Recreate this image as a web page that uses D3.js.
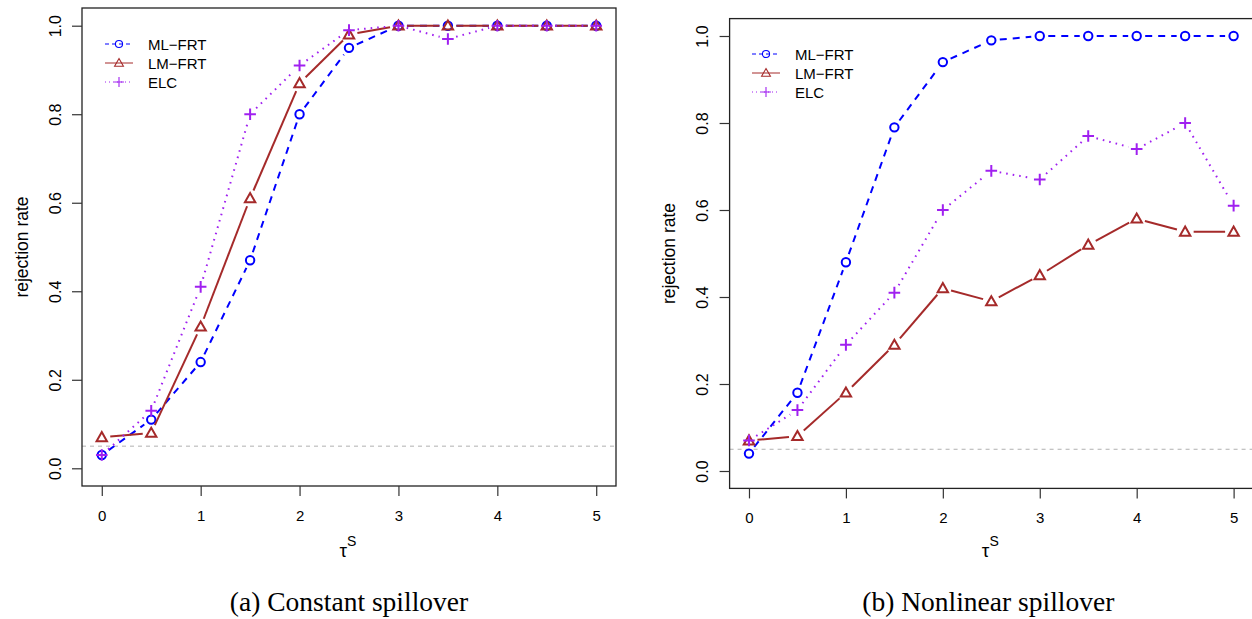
<!DOCTYPE html>
<html>
<head>
<meta charset="utf-8">
<script src="https://cdn.jsdelivr.net/npm/d3@7"></script>
<style>
  body { margin: 0; background: #fff; }
  text { font-family: "Liberation Sans", Arial, sans-serif; }
  .caption { font-family: "Liberation Serif", "DejaVu Serif", serif; }
</style>
</head>
<body>
<div id="chart"></div>
<script>
// Values
const taus = [0, 0.5, 1, 1.5, 2, 2.5, 3, 3.5, 4, 4.5, 5];
const xTicks = [0, 1, 2, 3, 4, 5];
const yTicks = [0, 0.2, 0.4, 0.6, 0.8, 1.0];
const seriesNames = ["ML\u2212FRT", "LM\u2212FRT", "ELC"];
const captions = ["(a) Constant spillover", "(b) Nonlinear spillover"];
const nominalLevel = 0.05;

// (a) constant spillover
const constML = [0.03, 0.11, 0.24, 0.47, 0.80, 0.95, 1.00, 1.00, 1.00, 1.00, 1.00];
const constLM = [0.07, 0.08, 0.32, 0.61, 0.87, 0.98, 1.00, 1.00, 1.00, 1.00, 1.00];
const constELC = [0.03, 0.13, 0.41, 0.80, 0.91, 0.99, 1.00, 0.97, 1.00, 1.00, 1.00];

// (b) nonlinear spillover
const nonlinML = [0.04, 0.18, 0.48, 0.79, 0.94, 0.99, 1.00, 1.00, 1.00, 1.00, 1.00];
const nonlinLM = [0.07, 0.08, 0.18, 0.29, 0.42, 0.39, 0.45, 0.52, 0.58, 0.55, 0.55];
const nonlinELC = [0.07, 0.14, 0.29, 0.41, 0.60, 0.69, 0.67, 0.77, 0.74, 0.80, 0.61];

// Styles for each series
const styles = [
    { color: "#0000FF", dash: "7,6", legendDash: "4,3", mark: "circle" },
    { color: "#A52A2A", dash: null, legendDash: null, mark: "triangle" },
    { color: "#A020F0", dash: "1.6,5", legendDash: "1,3", mark: "plus" }
];

// Plot boxes (pixel frames of each panel)
const frames = [
    { left: 82, right: 616, top: 8, bottom: 486, ylabX: 22, legX: 105, legY: 44 },
    { left: 729.6, right: 1253, top: 18.6, bottom: 488.4, ylabX: 669, legX: 752, legY: 54 }
];

const panelData = [
    [constML, constLM, constELC],
    [nonlinML, nonlinLM, nonlinELC]
];

const svg = d3.select("#chart")
    .append("svg")
    .attr("width", 1252)
    .attr("height", 619);

function drawMark(g, kind, cx, cy, color, lw, s) {
    if (kind === "circle") {
        g.append("circle")
            .attr("cx", cx).attr("cy", cy).attr("r", 4.2 * s)
            .attr("fill", "none").attr("stroke", color).attr("stroke-width", lw);
    } else if (kind === "triangle") {
        const h = 5.2 * s;
        g.append("path")
            .attr("d", `M${cx},${cy - h}L${cx + h},${cy + h * 0.75}L${cx - h},${cy + h * 0.75}Z`)
            .attr("fill", "none").attr("stroke", color).attr("stroke-width", lw)
            .attr("stroke-linejoin", "miter");
    } else {
        const a = 5.8 * s;
        g.append("path")
            .attr("d", `M${cx - a},${cy}H${cx + a}M${cx},${cy - a}V${cy + a}`)
            .attr("fill", "none").attr("stroke", color).attr("stroke-width", lw);
    }
}

panelData.forEach(function(series, p) {
    const f = frames[p];
    const x = d3.scaleLinear([-0.2, 5.2], [f.left, f.right]);
    const y = d3.scaleLinear([-0.04, 1.04], [f.bottom, f.top]);
    const g = svg.append("g");

    // reference line at the nominal level
    g.append("line")
        .attr("x1", f.left).attr("x2", f.right)
        .attr("y1", y(nominalLevel)).attr("y2", y(nominalLevel))
        .attr("stroke", "#b0b0b0").attr("stroke-width", 1)
        .attr("stroke-dasharray", "4,4");

    // series: segments with gaps around the points (type = "b")
    const gap = 8.5;
    series.forEach(function(vals, s) {
        const st = styles[s];
        const sg = g.append("g");
        for (let i = 0; i < vals.length - 1; i++) {
            const x0 = x(taus[i]), y0 = y(vals[i]);
            const x1 = x(taus[i + 1]), y1 = y(vals[i + 1]);
            const len = Math.hypot(x1 - x0, y1 - y0);
            if (len <= 2 * gap) continue;
            const ux = (x1 - x0) / len, uy = (y1 - y0) / len;
            sg.append("line")
                .attr("x1", x0 + ux * gap).attr("y1", y0 + uy * gap)
                .attr("x2", x1 - ux * gap).attr("y2", y1 - uy * gap)
                .attr("stroke", st.color).attr("stroke-width", 2)
                .attr("stroke-dasharray", st.dash);
        }
        vals.forEach(function(v, i) {
            drawMark(sg, st.mark, x(taus[i]), y(v), st.color, 2, 1);
        });
    });

    // box
    g.append("rect")
        .attr("x", f.left).attr("y", f.top)
        .attr("width", f.right - f.left).attr("height", f.bottom - f.top)
        .attr("fill", "none").attr("stroke", "#222").attr("stroke-width", 1.3);

    // x axis
    const xa = g.append("g")
        .attr("transform", `translate(0, ${f.bottom})`)
        .call(d3.axisBottom(x).tickValues(xTicks).tickFormat(d3.format("d")).tickSize(10));
    xa.select(".domain").remove();
    xa.selectAll("line").attr("stroke", "#333").attr("stroke-width", 1.2);
    xa.selectAll("text")
        .attr("y", 29).attr("dy", null)
        .attr("dominant-baseline", "central")
        .attr("font-size", 15).attr("fill", "#000");

    // y axis
    const ya = g.append("g")
        .attr("transform", `translate(${f.left}, 0)`)
        .call(d3.axisLeft(y).tickValues(yTicks).tickFormat(d3.format(".1f")).tickSize(10));
    ya.select(".domain").remove();
    ya.selectAll("line").attr("stroke", "#333").attr("stroke-width", 1.2);
    ya.selectAll("text")
        .attr("transform", "rotate(-90)")
        .attr("x", 0).attr("y", -27).attr("dy", null)
        .attr("text-anchor", "middle")
        .attr("dominant-baseline", "central")
        .attr("font-size", 16).attr("fill", "#000");

    // axis labels
    g.append("text")
        .attr("transform", `translate(${f.ylabX}, ${(f.top + f.bottom) / 2}) rotate(-90)`)
        .attr("text-anchor", "middle")
        .attr("dominant-baseline", "central")
        .attr("font-size", 17.5)
        .text("rejection rate");

    const xl = g.append("text")
        .attr("x", (f.left + f.right) / 2 - 1)
        .attr("y", 557)
        .attr("text-anchor", "middle")
        .attr("font-size", 19);
    xl.append("tspan").text("\u03C4");
    xl.append("tspan").attr("dy", -11).attr("font-size", 14).text("S");

    // caption
    g.append("text")
        .attr("class", "caption")
        .attr("x", (f.left + f.right) / 2 - (p === 1 ? 3 : 0))
        .attr("y", 611)
        .attr("text-anchor", "middle")
        .attr("font-size", 27.5)
        .text(captions[p]);

    // legend
    seriesNames.forEach(function(name, s) {
        const st = styles[s];
        const ly = f.legY + s * 19;
        g.append("line")
            .attr("x1", f.legX).attr("x2", f.legX + 28)
            .attr("y1", ly).attr("y2", ly)
            .attr("stroke", st.color).attr("stroke-width", 1)
            .attr("stroke-dasharray", st.legendDash);
        drawMark(g, st.mark, f.legX + 14, ly, st.color, 1.1, 0.85);
        g.append("text")
            .attr("x", f.legX + 43).attr("y", ly)
            .attr("dominant-baseline", "central")
            .attr("font-size", 15)
            .text(name);
    });
});
</script>
</body>
</html>
